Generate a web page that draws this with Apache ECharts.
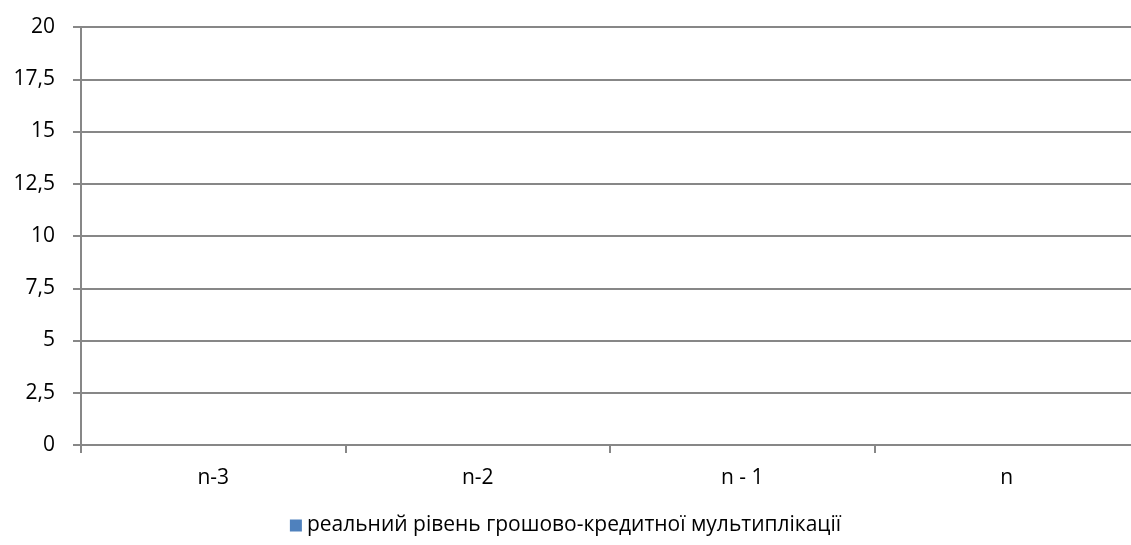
<!DOCTYPE html>
<html>
<head>
<meta charset="utf-8">
<script src="https://cdn.jsdelivr.net/npm/echarts@6/dist/echarts.min.js"></script>
<style>
html,body{margin:0;padding:0;background:#fff;}
#chart{width:1131px;height:545px;}
</style>
</head>
<body>
<div id="chart"></div>
<script>
var categories = ['n-3', 'n-2', 'n - 1', 'n'];
var seriesName = 'реальний рівень грошово-кредитної мультиплікації';
var values = [0, 0, 0, 0];
var yMin = 0, yMax = 20, yStep = 2.5;

var chart = echarts.init(document.getElementById('chart'));
var font = 'Open Sans, Noto Sans, sans-serif';
chart.setOption({
  animation: false,
  grid: { left: 81, width: 1058, top: 27, height: 418, containLabel: false, outerBoundsMode: 'none' },
  legend: {
    data: [{ name: seriesName, icon: 'rect' }],
    bottom: 4, left: 'center',
    itemWidth: 12, itemHeight: 12, itemGap: 5,
    textStyle: { fontFamily: font, fontSize: 21, color: '#000' }
  },
  xAxis: {
    type: 'category',
    data: categories,
    boundaryGap: true,
    axisLine: { lineStyle: { color: '#878787', width: 2 } },
    axisTick: { show: true, length: 8, lineStyle: { color: '#878787', width: 2 } },
    axisLabel: { fontFamily: font, fontSize: 21, color: '#000', margin: 23 }
  },
  yAxis: {
    type: 'value',
    min: yMin, max: yMax, interval: yStep,
    axisLine: { show: true, lineStyle: { color: '#878787', width: 2 } },
    axisTick: { show: true, length: 8, lineStyle: { color: '#878787', width: 2 } },
    splitLine: { show: true, lineStyle: { color: '#878787', width: 2 } },
    axisLabel: {
      fontFamily: font, fontSize: 21, color: '#000', margin: 26,
      formatter: function (v) { return String(v).replace('.', ','); }
    }
  },
  series: [{
    name: seriesName,
    type: 'bar',
    data: values,
    itemStyle: { color: '#4F81BD' }
  }]
});
</script>
</body>
</html>
